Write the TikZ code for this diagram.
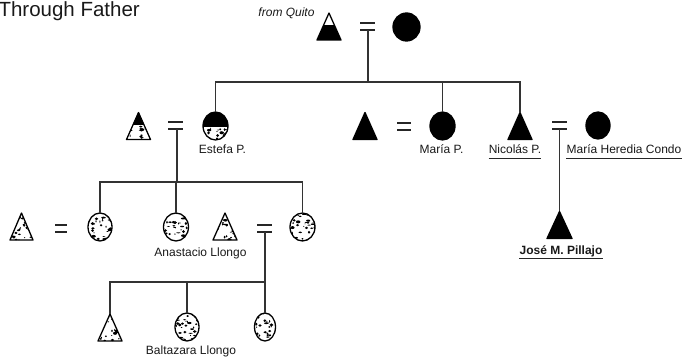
\documentclass[tikz,border=0pt]{standalone}
\usepackage{fontspec}
\setmainfont{Liberation Sans}
\usetikzlibrary{shapes.geometric}
\newcommand\kintri[5]{%
  \node[inner sep=0pt, outer sep=0pt, minimum width=#4pt, minimum height=27pt] (#1) at (#2,#3) {};
  \draw[shapeline,#5] (#1.south west) -- (#1.south east) -- (#1.north) -- cycle;}
\tikzset{
  shapeline/.style={line width=1.3pt, line join=round, draw=black},
  circ/.style={ellipse, draw=black, line width=1.3pt, inner sep=0pt, outer sep=0pt, minimum width=25pt, minimum height=28pt},
  link/.style={line width=1.1pt, draw=black!80},
  eqline/.style={line width=1.5pt, draw=black!85},
  uline/.style={line width=0.9pt, draw=black!85},
  lbl/.style={inner sep=0pt, anchor=base, text=black!90, font=\fontsize{12}{14}\selectfont},
  solid black/.style={fill=black},
  stip/.style={path picture={\pgfmathsetseed{#1}%
    \foreach \k in {1,...,34}{\fill[black] ([shift={(rand*12pt,rand*14pt)}]path picture bounding box.center) ellipse[x radius=0.5pt+rnd*1.8pt, y radius=0.4pt+rnd*1.2pt];}}},
  topblack/.style 2 args={path picture={%
    \fill[black] (path picture bounding box.north west) rectangle ([yshift=-#2pt]path picture bounding box.north east);
    \pgfmathsetmacro{\lowh}{27-#2}%
    \pgfmathsetseed{#1}%
    \foreach \k in {1,...,16}{\fill[black] ([shift={(rand*12pt,1pt+rnd*(\lowh-1)*1pt)}]path picture bounding box.south) ellipse[x radius=0.5pt+rnd*1.8pt, y radius=0.4pt+rnd*1.2pt];}}},
  lowblack/.style={path picture={%
    \fill[black] (path picture bounding box.south west) rectangle ([yshift=#1pt]path picture bounding box.south east);}},
}
\begin{document}
\begin{tikzpicture}[x=1pt,y=-1pt]
\useasboundingbox (0,0) rectangle (687,363);

% titles
\node[lbl, anchor=base east, font=\fontsize{20.5}{24}\selectfont] (lTit) at (140,17) {Through Father};
\node[lbl, font=\itshape\fontsize{12}{14}\selectfont] (lQui) at (286.5,17) {from Quito};

% generation 1
\kintri{T0}{329}{26.5}{24}{lowblack=15}
\node[circ, fill=black, minimum width=27pt, minimum height=28pt] (C0) at (406.5,27) {};
\draw[eqline] (360,23) -- (375,23) (360,30) -- (375,30);
\coordinate (E0) at (368,30);
\coordinate (B0) at (368,82);

% generation 2
\kintri{T1}{138.5}{126}{24}{topblack={11}{13}}
\draw[eqline] (168,122) -- (183,122) (168,129) -- (183,129);
\coordinate (E1) at (177,129);
\node[circ, topblack={12}{15}] (C1) at (215.5,126) {};
\kintri{T2}{365}{126}{24}{solid black}
\draw[eqline] (397,123) -- (411,123) (397,130) -- (411,130);
\node[circ, fill=black] (C2) at (442.5,126) {};
\kintri{T3}{520}{126}{24}{solid black}
\draw[eqline] (552,122) -- (567,122) (552,129) -- (567,129);
\coordinate (E3) at (559.5,129);
\node[circ, fill=black, minimum width=24pt, minimum height=27pt] (C3) at (598,125.5) {};

% generation 3
\coordinate (B1) at (177,182);
\kintri{T4}{21.5}{226.5}{23}{stip=21}
\draw[eqline] (55,225) -- (67,225) (55,232) -- (67,232);
\node[circ, stip=22, minimum width=24pt] (C4) at (100,227) {};
\node[circ, stip=23] (C5) at (176,227) {};
\kintri{T5}{225}{226.5}{24}{stip=24}
\draw[eqline] (257,225) -- (272,225) (257,232) -- (272,232);
\coordinate (E2) at (265,232);
\node[circ, stip=25] (C6) at (302.5,227) {};
\kintri{T7}{559.5}{225}{25}{solid black}

% generation 4
\coordinate (B2) at (265,282);
\kintri{T6}{110}{327.5}{24}{stip=26}
\node[circ, stip=27, minimum width=24pt] (C7) at (187,327) {};
\node[circ, stip=28, minimum width=21pt] (C8) at (265,327) {};

% connectors
\draw[link] (E0) -- (B0);
\draw[link] (C1.north) |- (B0) -| (T3.north);
\draw[link] (C2.north) -- (C2.north |- B0);
\draw[link] (E1) -- (B1);
\draw[link] (C4.north) |- (B1) -| (C6.north);
\draw[link] (C5.north) -- (C5.north |- B1);
\draw[link] (E3) -- (T7.north);
\draw[link] (E2) -- (C8.north);
\draw[link] (T6.north) |- (B2);
\draw[link] (C7.north) -- (C7.north |- B2);

% labels
\node[lbl] (lEst) at (222.5,154) {Estefa P.};
\node[lbl] (lMar) at (441.5,154) {María P.};
\node[lbl] (lNic) at (515,154) {Nicolás P.};
\node[lbl] (lHer) at (624,154) {María Heredia Condo};
\node[lbl] (lAna) at (200.5,256) {Anastacio Llongo};
\node[lbl] (lBal) at (191,354) {Baltazara Llongo};
\node[lbl, font=\bfseries\fontsize{12}{14}\selectfont] (lJos) at (561,254) {José M. Pillajo};

\draw[uline] ([yshift=-4pt]lNic.base west) -- ([yshift=-4pt]lNic.base east);
\draw[uline] ([yshift=-4pt]lHer.base west) -- ([yshift=-4pt]lHer.base east);
\draw[uline] ([yshift=-4pt]lJos.base west) -- ([yshift=-4pt]lJos.base east);
\end{tikzpicture}
\end{document}
